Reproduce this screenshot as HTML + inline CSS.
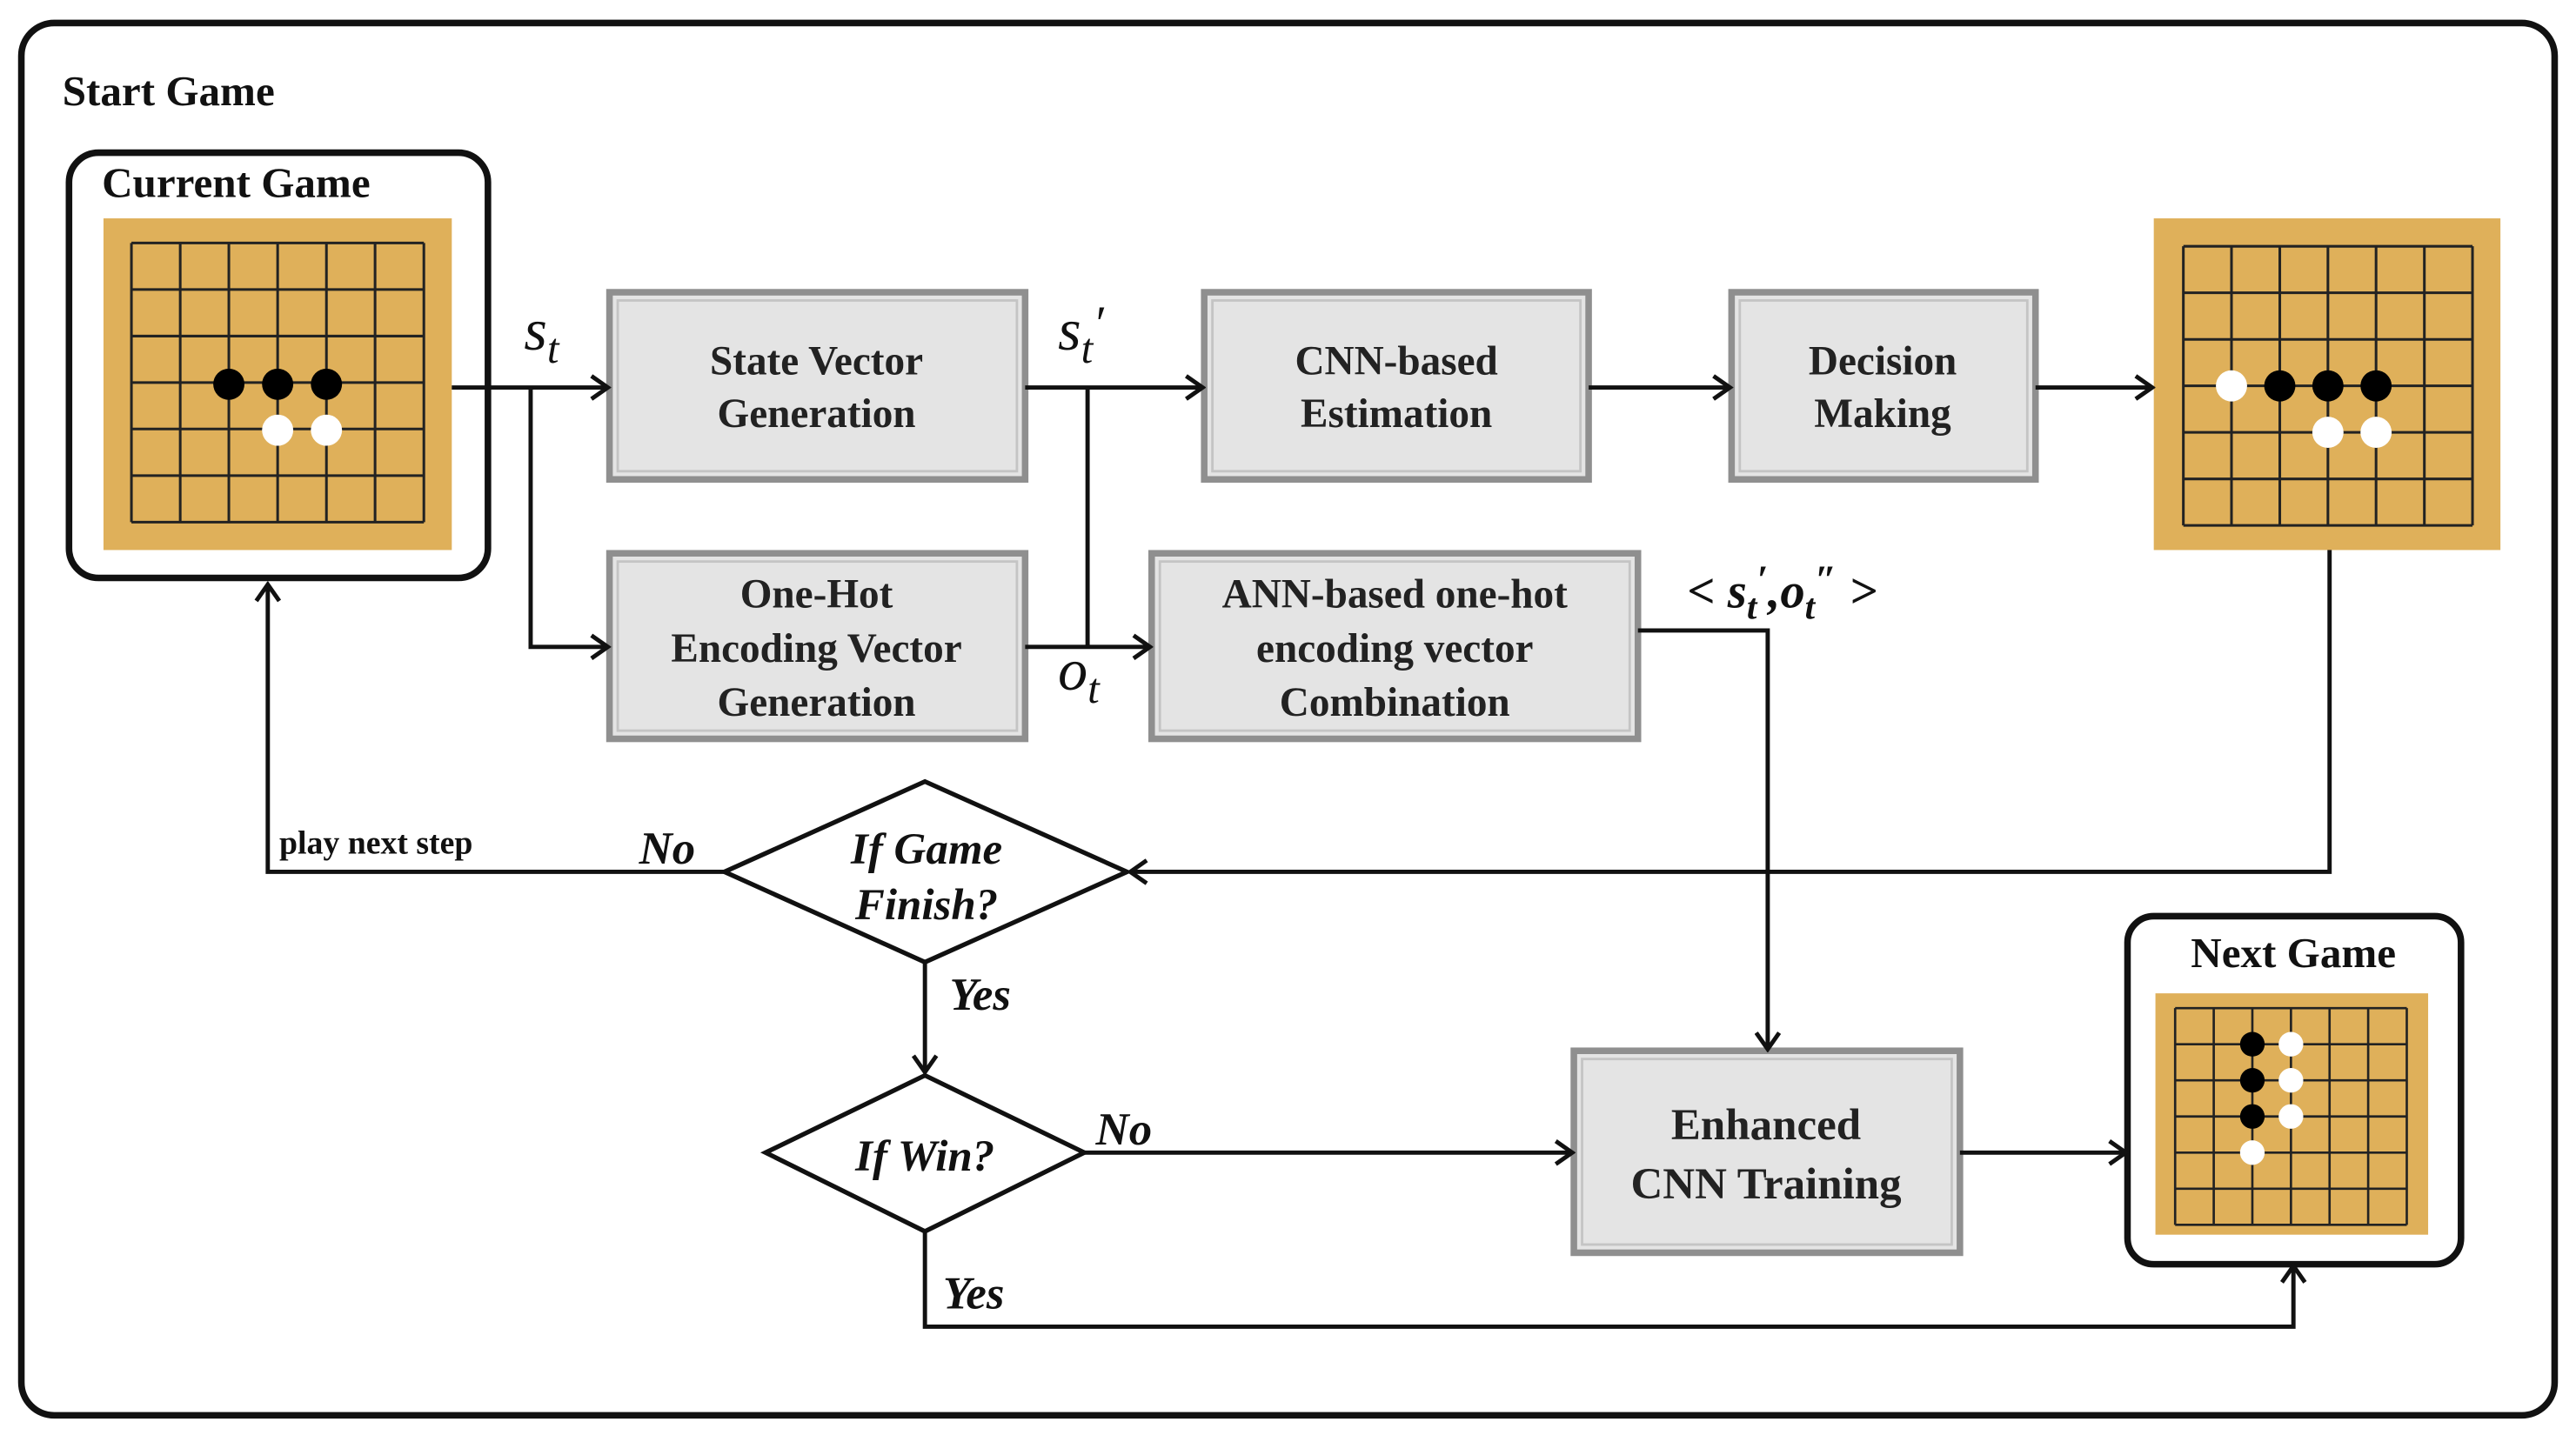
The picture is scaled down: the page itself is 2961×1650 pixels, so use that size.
<!DOCTYPE html>
<html><head><meta charset="utf-8"><style>
html,body{margin:0;padding:0;background:#fff;}
svg{display:block;}
.t{font-family:"Liberation Serif",serif;font-weight:bold;fill:#111;}
.bx{font-family:"Liberation Serif",serif;font-weight:bold;fill:#222;font-size:25px;}
.it{font-family:"Liberation Serif",serif;font-style:italic;fill:#111;}
.bi{font-family:"Liberation Serif",serif;font-style:italic;font-weight:bold;fill:#111;}
.ln{stroke:#111;stroke-width:2.6;fill:none;}
</style></head><body>
<svg width="2961" height="1650" viewBox="0 0 1568 874" preserveAspectRatio="none" xmlns="http://www.w3.org/2000/svg">
<defs>
<marker id="a" markerWidth="16" markerHeight="16" refX="14" refY="8" orient="auto" markerUnits="userSpaceOnUse">
<polyline points="4,1 14,8 4,15" fill="none" stroke="#111" stroke-width="2.6"/>
</marker>
</defs>
<rect x="13" y="14" width="1542" height="848" rx="20" fill="#fff" stroke="#111" stroke-width="4"/>
<text class="t" x="38" y="64" font-size="26">Start Game</text>

<!-- Current game -->
<rect x="42" y="93" width="255" height="259" rx="18" fill="#fff" stroke="#111" stroke-width="4"/>
<text class="t" x="62" y="120" font-size="26">Current Game</text>
<rect x="63" y="133" width="212" height="202" fill="#dfb05a"/>
<g stroke="#222" stroke-width="1.6">
<line x1="80" y1="148" x2="80" y2="318"/><line x1="109.7" y1="148" x2="109.7" y2="318"/><line x1="139.3" y1="148" x2="139.3" y2="318"/><line x1="169" y1="148" x2="169" y2="318"/><line x1="198.7" y1="148" x2="198.7" y2="318"/><line x1="228.3" y1="148" x2="228.3" y2="318"/><line x1="258" y1="148" x2="258" y2="318"/>
<line x1="80" y1="148" x2="258" y2="148"/><line x1="80" y1="176.3" x2="258" y2="176.3"/><line x1="80" y1="204.7" x2="258" y2="204.7"/><line x1="80" y1="233" x2="258" y2="233"/><line x1="80" y1="261.3" x2="258" y2="261.3"/><line x1="80" y1="289.7" x2="258" y2="289.7"/><line x1="80" y1="318" x2="258" y2="318"/>
</g>
<circle cx="139.3" cy="234" r="9.5" fill="#000"/><circle cx="169" cy="234" r="9.5" fill="#000"/><circle cx="198.7" cy="234" r="9.5" fill="#000"/>
<circle cx="169" cy="262" r="9.5" fill="#fff"/><circle cx="198.7" cy="262" r="9.5" fill="#fff"/>

<!-- Right board -->
<rect x="1311" y="133" width="211" height="202" fill="#dfb05a"/>
<g stroke="#222" stroke-width="1.6">
<line x1="1329" y1="150" x2="1329" y2="320"/><line x1="1358.3" y1="150" x2="1358.3" y2="320"/><line x1="1387.7" y1="150" x2="1387.7" y2="320"/><line x1="1417" y1="150" x2="1417" y2="320"/><line x1="1446.3" y1="150" x2="1446.3" y2="320"/><line x1="1475.7" y1="150" x2="1475.7" y2="320"/><line x1="1505" y1="150" x2="1505" y2="320"/>
<line x1="1329" y1="150" x2="1505" y2="150"/><line x1="1329" y1="178.3" x2="1505" y2="178.3"/><line x1="1329" y1="206.7" x2="1505" y2="206.7"/><line x1="1329" y1="235" x2="1505" y2="235"/><line x1="1329" y1="263.3" x2="1505" y2="263.3"/><line x1="1329" y1="291.7" x2="1505" y2="291.7"/><line x1="1329" y1="320" x2="1505" y2="320"/>
</g>
<circle cx="1358.3" cy="235" r="9.5" fill="#fff"/>
<circle cx="1387.7" cy="235" r="9.5" fill="#000"/><circle cx="1417" cy="235" r="9.5" fill="#000"/><circle cx="1446.3" cy="235" r="9.5" fill="#000"/>
<circle cx="1417" cy="263.3" r="9.5" fill="#fff"/><circle cx="1446.3" cy="263.3" r="9.5" fill="#fff"/>

<!-- Next game -->
<rect x="1295" y="558" width="203" height="212" rx="16" fill="#fff" stroke="#111" stroke-width="4"/>
<text class="t" x="1396" y="589" font-size="26" text-anchor="middle">Next Game</text>
<rect x="1312" y="605" width="166" height="147" fill="#dfb05a"/>
<g stroke="#222" stroke-width="1.4">
<line x1="1324" y1="614" x2="1324" y2="746"/><line x1="1347.5" y1="614" x2="1347.5" y2="746"/><line x1="1371" y1="614" x2="1371" y2="746"/><line x1="1394.5" y1="614" x2="1394.5" y2="746"/><line x1="1418" y1="614" x2="1418" y2="746"/><line x1="1441.5" y1="614" x2="1441.5" y2="746"/><line x1="1465" y1="614" x2="1465" y2="746"/>
<line x1="1324" y1="614" x2="1465" y2="614"/><line x1="1324" y1="636" x2="1465" y2="636"/><line x1="1324" y1="658" x2="1465" y2="658"/><line x1="1324" y1="680" x2="1465" y2="680"/><line x1="1324" y1="702" x2="1465" y2="702"/><line x1="1324" y1="724" x2="1465" y2="724"/><line x1="1324" y1="746" x2="1465" y2="746"/>
</g>
<circle cx="1371" cy="636" r="7.5" fill="#000"/><circle cx="1371" cy="658" r="7.5" fill="#000"/><circle cx="1371" cy="680" r="7.5" fill="#000"/>
<circle cx="1394.5" cy="636" r="7.5" fill="#fff"/><circle cx="1394.5" cy="658" r="7.5" fill="#fff"/><circle cx="1394.5" cy="680" r="7.5" fill="#fff"/>
<circle cx="1371" cy="702" r="7.5" fill="#fff"/>

<!-- gray boxes -->
<g fill="#e4e4e4" stroke="#8f8f8f" stroke-width="4">
<rect x="371" y="178" width="253" height="114"/>
<rect x="371" y="337" width="253" height="113"/>
<rect x="733" y="178" width="234" height="114"/>
<rect x="1054" y="178" width="185" height="114"/>
<rect x="701" y="337" width="296" height="113"/>
<rect x="958" y="640" width="235" height="123"/>
</g>
<g fill="none" stroke="#c4c4c4" stroke-width="1.5">
<rect x="376" y="183" width="243" height="104"/>
<rect x="376" y="342" width="243" height="103"/>
<rect x="738" y="183" width="224" height="104"/>
<rect x="1059" y="183" width="175" height="104"/>
<rect x="706" y="342" width="286" height="103"/>
<rect x="963" y="645" width="225" height="113"/>
</g>
<g class="bx" text-anchor="middle">
<text x="497" y="228">State Vector</text><text x="497" y="260">Generation</text>
<text x="497" y="370">One-Hot</text><text x="497" y="403">Encoding Vector</text><text x="497" y="436">Generation</text>
<text x="850" y="228">CNN-based</text><text x="850" y="260">Estimation</text>
<text x="1146" y="228">Decision</text><text x="1146" y="260">Making</text>
<text x="849" y="370">ANN-based one-hot</text><text x="849" y="403">encoding vector</text><text x="849" y="436">Combination</text>
<text x="1075" y="694" font-size="27">Enhanced</text><text x="1075" y="730" font-size="27">CNN Training</text>
</g>

<!-- connectors -->
<g class="ln">
<line x1="275" y1="236" x2="370" y2="236" marker-end="url(#a)"/>
<polyline points="323,236 323,394 370,394" marker-end="url(#a)"/>
<line x1="624" y1="236" x2="732" y2="236" marker-end="url(#a)"/>
<line x1="662" y1="236" x2="662" y2="394"/>
<line x1="624" y1="394" x2="700" y2="394" marker-end="url(#a)"/>
<line x1="967" y1="236" x2="1053" y2="236" marker-end="url(#a)"/>
<line x1="1239" y1="236" x2="1310" y2="236" marker-end="url(#a)"/>
<polyline points="1418,335 1418,531 688,531" marker-end="url(#a)"/>
<polyline points="441,531 163,531 163,356" marker-end="url(#a)"/>
<line x1="563" y1="586" x2="563" y2="653" marker-end="url(#a)"/>
<line x1="660" y1="702" x2="957" y2="702" marker-end="url(#a)"/>
<polyline points="563,750 563,808 1396,808 1396,771" marker-end="url(#a)"/>
<polyline points="997,384 1076,384 1076,639" marker-end="url(#a)"/>
<line x1="1193" y1="702" x2="1294" y2="702" marker-end="url(#a)"/>
</g>
<!-- diamonds -->
<polygon points="441,531 563,476 686,531 563,586" fill="#fff" stroke="#111" stroke-width="2.8"/>
<polygon points="466,702 563,655 660,702 563,750" fill="#fff" stroke="#111" stroke-width="2.8"/>
<g class="bi" text-anchor="middle" font-size="27">
<text x="564" y="526">If Game</text><text x="564" y="560">Finish?</text>
<text x="563" y="713">If Win?</text>
</g>
<g class="bi" font-size="28">
<text x="389" y="526">No</text>
<text x="578" y="615">Yes</text>
<text x="667" y="697">No</text>
<text x="574" y="797">Yes</text>
</g>
<text class="t" x="170" y="520" font-size="20">play next step</text>
<g class="it" font-size="36">
<text x="319" y="213">s<tspan font-size="26" dy="8">t</tspan></text>
<text x="644" y="213">s<tspan font-size="26" dy="8">t</tspan><tspan dy="-14" font-size="30">′</tspan></text>
<text x="644" y="420">o<tspan font-size="26" dy="8">t</tspan></text>
</g>
<text class="bi" x="1027" y="370" font-size="30">&lt; s<tspan font-size="22" dy="7">t</tspan><tspan dy="-16" font-size="24">′</tspan><tspan dy="9">,</tspan>o<tspan font-size="22" dy="7">t</tspan><tspan dy="-16" font-size="24">″</tspan><tspan dy="9"> &gt;</tspan></text>
</svg>
</body></html>
